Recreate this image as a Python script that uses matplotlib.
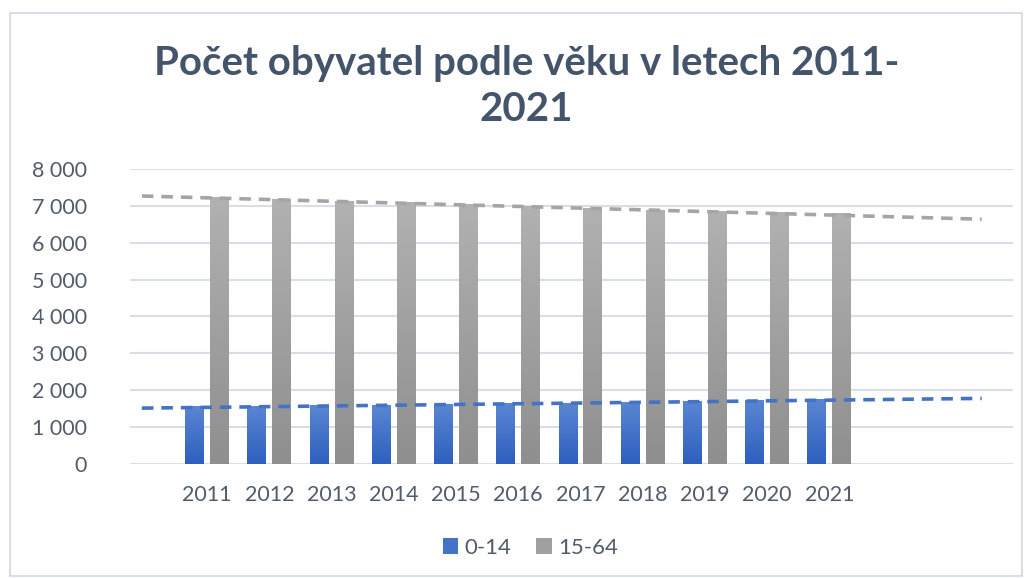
import numpy as np
import matplotlib.pyplot as plt
from matplotlib.patches import Rectangle
from matplotlib.colors import LinearSegmentedColormap

years = ["2011", "2012", "2013", "2014", "2015", "2016", "2017", "2018", "2019", "2020", "2021"]
age_0_14 = [1550, 1562, 1578, 1592, 1608, 1628, 1645, 1665, 1690, 1720, 1750]
age_15_64 = [7230, 7175, 7120, 7070, 7020, 6970, 6920, 6870, 6830, 6800, 6780]
y_ticks = [0, 1000, 2000, 3000, 4000, 5000, 6000, 7000, 8000]
y_labels = ["0", "1 000", "2 000", "3 000", "4 000", "5 000", "6 000", "7 000", "8 000"]

plt.rcParams['font.family'] = ['Lato', 'DejaVu Sans']
txt_col = "#525c6c"

fig = plt.figure(figsize=(10.32, 5.78), dpi=100)
ax = fig.add_axes([0.126, 0.197, 0.856, 0.511])

x = np.arange(len(years))
w = 0.305
off = 0.2

blue_cmap = LinearSegmentedColormap.from_list("b", ["#5a86d2", "#2d5fbe"])
grey_cmap = LinearSegmentedColormap.from_list("g", ["#b1b1b1", "#8f8f8f"])
grad = np.linspace(0, 1, 100).reshape(-1, 1)


def gradient_bars(xs, vals, cmap, label):
    bars = ax.bar(xs, vals, width=w, color=cmap(0.5), label=label, zorder=2)
    for b in bars:
        x0, y0 = b.get_x(), b.get_y()
        ax.imshow(grad, cmap=cmap, aspect='auto', zorder=2.1,
                  extent=[x0, x0 + b.get_width(), y0, y0 + b.get_height()],
                  origin='upper')
    return bars


gradient_bars(x - off, age_0_14, blue_cmap, "0-14")
gradient_bars(x + off, age_15_64, grey_cmap, "15-64")

# linear trendlines (1 period back, ~2.4 forward)
tx = np.array([-1.05, 12.45])
for vals, col in [(age_0_14, "#4472c4"), (age_15_64, "#a5a5a5")]:
    k, q = np.polyfit(x, vals, 1)
    ax.plot(tx, k * tx + q, color=col, lw=2.6, ls=(0, (3.2, 2.2)), zorder=3)

ax.set_xlim(-1.24, 12.96)
ax.set_ylim(0, 8000)
ax.set_yticks(y_ticks)
ax.set_yticklabels(y_labels)
ax.set_xticks(x)
ax.set_xticklabels(years)
ax.tick_params(axis='both', length=0, labelsize=15.5, colors=txt_col)
ax.tick_params(axis='x', pad=15)
ax.tick_params(axis='y', pad=31)
ax.grid(axis='y', color="#d9dde6", lw=1.5, zorder=0)
ax.set_axisbelow(True)
for s in ax.spines.values():
    s.set_visible(False)

fig.text(0.51, 0.85, "Počet obyvatel podle věku v letech 2011-\n2021",
         ha='center', va='center', fontsize=29, fontweight='bold',
         color="#44546a", linespacing=1.3)

leg = fig.legend(loc='center', bbox_to_anchor=(0.514, 0.052), ncol=2, frameon=False,
                 fontsize=16, handlelength=0.7, handleheight=0.7,
                 handletextpad=0.3, columnspacing=1.1)
for t in leg.get_texts():
    t.set_color(txt_col)

fig.patches.append(Rectangle((0.01, 0.003), 0.98, 0.975, transform=fig.transFigure,
                             fill=False, edgecolor="#d9dde6", lw=1.5))

fig.savefig("out.png", dpi=100)
